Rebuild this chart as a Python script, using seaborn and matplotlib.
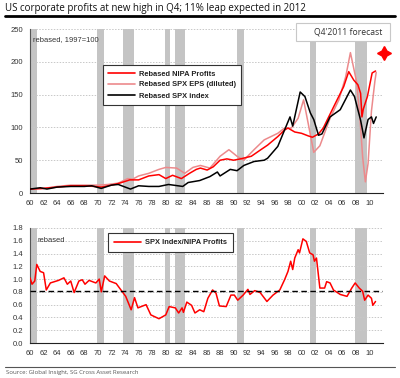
import matplotlib
matplotlib.use("Agg")
import matplotlib.pyplot as plt
import seaborn as sns
import pandas as pd
from matplotlib.lines import Line2D
from matplotlib.patches import Rectangle

# ---------------- data ----------------
nipa_years = [1960, 1962, 1964, 1966, 1968, 1969.5, 1970.5, 1972, 1973.2, 1974.7, 1976, 1977.5,
              1979, 1980, 1981, 1982.3, 1983.5, 1984.5, 1985.1, 1986.1, 1987, 1988, 1989, 1990,
              1991, 1992.6, 1994, 1995, 1996.5, 1997.5, 1998, 1999, 2000, 2001, 2001.6, 2002.5,
              2003.2, 2004, 2005, 2006.2, 2006.95, 2007.7, 2008.3, 2008.7, 2008.9, 2009.1, 2009.7,
              2010.4, 2010.9]
nipa_vals = [6, 7, 9, 11, 11, 10, 9, 12, 15, 20, 20, 26,
             28, 22, 27, 22, 30, 36, 38, 35, 40, 50, 52, 50,
             52, 56, 66, 73, 86, 96, 99, 93, 91, 87, 85, 90,
             99, 116, 137, 162, 185, 172, 165, 152, 116, 128, 147,
             183, 186]

eps_years = [1960, 1962, 1964, 1966, 1968, 1970, 1971.5, 1973, 1974.4, 1975.1, 1976, 1977.5,
             1979, 1980, 1981.6, 1982.8, 1984, 1985.1, 1986.5, 1988, 1989.3, 1990.5, 1991.5,
             1993, 1994.5, 1996.5, 1997.5, 1998.5, 1999.5, 2000.3, 2001.0, 2001.8, 2002.7,
             2004.2, 2005.5, 2006.5, 2007.2, 2008.1, 2008.6, 2009.0, 2009.4, 2009.8, 2010.3,
             2010.8, 2011.0]
eps_vals = [6, 7, 10, 12, 12, 12, 13, 15, 22, 21, 26, 30,
            36, 39, 38, 30, 39, 42, 38, 56, 66, 56, 50,
            66, 81, 91, 99, 99, 114, 142, 105, 62, 72,
            114, 142, 177, 214, 170, 115, 55, 17, 45, 125,
            170, 184]

spx_years = [1960, 1961.5, 1962.5, 1964, 1966, 1968, 1969.1, 1970.5, 1972, 1973, 1974.8, 1976,
             1977.5, 1979, 1980.4, 1981.8, 1982.5, 1983.3, 1985, 1986.5, 1987.6, 1988, 1989.5,
             1990.5, 1991.5, 1993, 1994.5, 1995, 1996.5, 1997.5, 1998.3, 1998.7, 1999.8, 2000.5,
             2001.3, 2001.8, 2002.5, 2003, 2004.2, 2005.7, 2007.2, 2007.8, 2008.7, 2009.2, 2009.8,
             2010.3, 2010.6, 2011]
spx_vals = [6, 8, 6, 9, 10, 10, 11, 7, 12, 13, 6, 11,
            10, 10, 13, 11, 10, 16, 19, 25, 32, 26, 36,
            34, 42, 48, 50, 53, 71, 96, 116, 102, 154, 147,
            122, 112, 88, 90, 116, 127, 157, 147, 111, 84, 112,
            116, 106, 116]

ratio_years = [1960, 1960.3, 1960.7, 1961, 1961.5, 1962, 1962.4, 1963, 1964.2, 1965, 1965.5, 1966,
               1966.5, 1967.2, 1967.7, 1968.1, 1968.7, 1969.7, 1970.2, 1970.5, 1971, 1971.7,
               1972.7, 1973.4, 1974.1, 1974.9, 1975.4, 1975.9, 1977.1, 1977.8, 1979, 1980, 1980.5,
               1981.4, 1981.9, 1982.4, 1982.6, 1983.1, 1983.8, 1984.3, 1985, 1985.6, 1986.2,
               1986.9, 1987.4, 1987.9, 1988.9, 1989.6, 1990.1, 1990.6, 1991.4, 1992.1, 1992.4,
               1993.1, 1993.9, 1994.9, 1995.8, 1996.8, 1997.5, 1998, 1998.4, 1998.7, 1999,
               1999.5, 1999.7, 2000.2, 2000.7, 2001.2, 2001.7, 2001.9, 2002.2, 2002.7, 2003.4,
               2003.7, 2004.2, 2004.7, 2005.7, 2006.7, 2007.4, 2007.9, 2008.5, 2009, 2009.3,
               2009.8, 2010.3, 2010.5, 2010.9]
ratio_vals = [1.02, 0.92, 0.97, 1.23, 1.12, 1.10, 0.83, 0.94, 0.98, 1.02, 0.92, 0.97,
              0.79, 0.97, 0.99, 0.92, 0.98, 0.94, 1.00, 0.80, 1.05, 0.97,
              0.93, 0.83, 0.73, 0.52, 0.71, 0.55, 0.60, 0.44, 0.38, 0.44, 0.57,
              0.55, 0.47, 0.55, 0.48, 0.64, 0.59, 0.47, 0.52, 0.49, 0.70,
              0.83, 0.78, 0.58, 0.57, 0.75, 0.75, 0.67, 0.75, 0.84, 0.76,
              0.82, 0.79, 0.65, 0.75, 0.83, 0.99, 1.12, 1.28, 1.15, 1.33,
              1.46, 1.41, 1.63, 1.59, 1.41, 1.38, 1.28, 1.33, 0.86, 0.86,
              0.96, 0.94, 0.83, 0.76, 0.73, 0.86, 0.94, 0.86, 0.81, 0.67,
              0.75, 0.70, 0.59, 0.65]

recessions = [(1960.0, 1961.0), (1969.8, 1970.9), (1973.7, 1975.3), (1979.9, 1980.6),
              (1981.4, 1982.9), (1990.5, 1991.5), (2001.3, 2002.1), (2007.9, 2009.7)]

forecast_year = [2012.15]
forecast_val = [213]
ratio_avg = 0.82

x_ticks = list(range(1960, 2013, 2))
x_labels = [f"{y % 100:02d}" for y in range(1960, 2011, 2)] + [""]
top_yticks = [0, 50, 100, 150, 200, 250]
bot_yticks = [0.0, 0.2, 0.4, 0.6, 0.8, 1.0, 1.2, 1.4, 1.6, 1.8]

labels_top = ["Rebased NIPA Profits", "Rebased SPX EPS (diluted)", "Rebased SPX index"]
label_bot = "SPX Index/NIPA Profits"

# ---------------- style ----------------
sns.set_style("white")
plt.rcParams["font.family"] = ["Liberation Sans", "DejaVu Sans"]

RED = "#ff0000"
PINK = "#ec8a8c"
BAND = "#c4c4c4"
TXT = "#333333"

fig = plt.figure(figsize=(4, 3.78), dpi=100)
W, H = 400, 378


def axrect(left, top, right, bottom):
    return [left / W, 1 - bottom / H, (right - left) / W, (bottom - top) / H]


ax1 = fig.add_axes(axrect(30, 29, 383, 193))
ax2 = fig.add_axes(axrect(30, 228, 383, 343))

df_nipa = pd.DataFrame({"year": nipa_years, "value": nipa_vals})
df_eps = pd.DataFrame({"year": eps_years, "value": eps_vals})
df_spx = pd.DataFrame({"year": spx_years, "value": spx_vals})
df_ratio = pd.DataFrame({"year": ratio_years, "value": ratio_vals})

for ax, yt in ((ax1, top_yticks), (ax2, bot_yticks)):
    for a, b in recessions:
        ax.axvspan(a, b, color=BAND, lw=0, zorder=0)
    for v in yt[1:]:
        ax.axhline(v, color="#c8c8c8", lw=0.7, ls=(0, (1.5, 1.5)), zorder=0.5)

sns.lineplot(data=df_eps, x="year", y="value", ax=ax1, color=PINK, lw=1.1, zorder=3)
sns.lineplot(data=df_nipa, x="year", y="value", ax=ax1, color=RED, lw=1.1, zorder=4)
sns.lineplot(data=df_spx, x="year", y="value", ax=ax1, color="black", lw=1.1, zorder=5)
ax1.plot(forecast_year, forecast_val, marker=(4, 1, 0), markersize=10, color=RED,
         ls="none", clip_on=False, zorder=6)

sns.lineplot(data=df_ratio, x="year", y="value", ax=ax2, color=RED, lw=1.1, zorder=4)
ax2.axhline(ratio_avg, color="black", lw=1.0, ls=(0, (4, 2.5)), zorder=5)

ax1.set_ylim(0, 250)
ax2.set_ylim(0, 1.8)
for ax in (ax1, ax2):
    ax.set_xlim(1960, 2012)
    ax.set_xticks(x_ticks)
    ax.set_xticklabels(x_labels)
    ax.set_xlabel("")
    ax.set_ylabel("")
    for s in ("top", "right"):
        ax.spines[s].set_visible(False)
    ax.spines["left"].set_color("#555555")
    ax.spines["bottom"].set_color("#222222")
    ax.spines["left"].set_linewidth(0.8)
    ax.spines["bottom"].set_linewidth(0.8)
    ax.tick_params(axis="both", which="both", direction="out", length=2.5, width=0.7,
                   colors="#333333", labelsize=5.5, labelcolor=TXT, pad=2.5)
ax1.set_yticks(top_yticks)
ax1.set_yticklabels([str(v) for v in top_yticks])
ax2.set_yticks(bot_yticks)
ax2.set_yticklabels([f"{v:.1f}" for v in bot_yticks])

# legends
h_top = [Line2D([], [], color=RED, lw=1.2), Line2D([], [], color=PINK, lw=1.2),
         Line2D([], [], color="black", lw=1.2)]
leg1 = ax1.legend(h_top, labels_top, loc="upper left",
                  bbox_to_anchor=(103 / W, 1 - 65 / H), bbox_transform=fig.transFigure,
                  prop={"size": 5.4, "weight": "bold"}, frameon=True, fancybox=False,
                  edgecolor="#333333", framealpha=1, borderpad=0.7, handlelength=3.6,
                  handletextpad=0.5, labelspacing=0.5, borderaxespad=0)
leg1.get_frame().set_linewidth(0.8)
for t in leg1.get_texts():
    t.set_color("#222222")

leg2 = ax2.legend([Line2D([], [], color=RED, lw=1.2)], [label_bot], loc="upper left",
                  bbox_to_anchor=(108 / W, 1 - 233 / H), bbox_transform=fig.transFigure,
                  prop={"size": 5.4, "weight": "bold"}, frameon=True, fancybox=False,
                  edgecolor="#333333", framealpha=1, borderpad=0.8, handlelength=3.6,
                  handletextpad=0.5, borderaxespad=0)
leg2.get_frame().set_linewidth(0.8)
for t in leg2.get_texts():
    t.set_color("#222222")

# annotations
ax1.text(33 / W, 1 - 40 / H, "rebased, 1997=100", transform=fig.transFigure,
         fontsize=5.4, color=TXT, va="center", ha="left", zorder=7)
ax2.text(37 / W, 1 - 241 / H, "rebased", transform=fig.transFigure,
         fontsize=5.4, color=TXT, va="center", ha="left", zorder=7)

fig.add_artist(Rectangle((296 / W, 1 - 41 / H), 94 / W, 18 / H, transform=fig.transFigure,
                         facecolor="white", edgecolor="#c8c8c8", lw=0.8))
fig.text(348 / W, 1 - 32 / H, "Q4'2011 forecast", fontsize=6.2, color="#333333",
         ha="center", va="center", family=["Open Sans", "DejaVu Sans"])

# title and source
fig.text(5 / W, 1 - 8 / H, "US corporate profits at new high in Q4; 11% leap expected in 2012",
         fontsize=7.0, color="#111111", ha="left", va="center",
         family=["Open Sans", "DejaVu Sans"])
fig.add_artist(Line2D([5 / W, 395 / W], [1 - 16 / H] * 2, color="black", lw=2))
fig.add_artist(Line2D([5 / W, 395 / W], [1 - 367 / H] * 2, color="#555555", lw=0.8))
fig.text(6 / W, 1 - 372.5 / H, "Source: Global Insight, SG Cross Asset Research",
         fontsize=4.3, color="#555555", ha="left", va="center",
         family=["Open Sans", "DejaVu Sans"])

fig.savefig("out.png", dpi=100)
